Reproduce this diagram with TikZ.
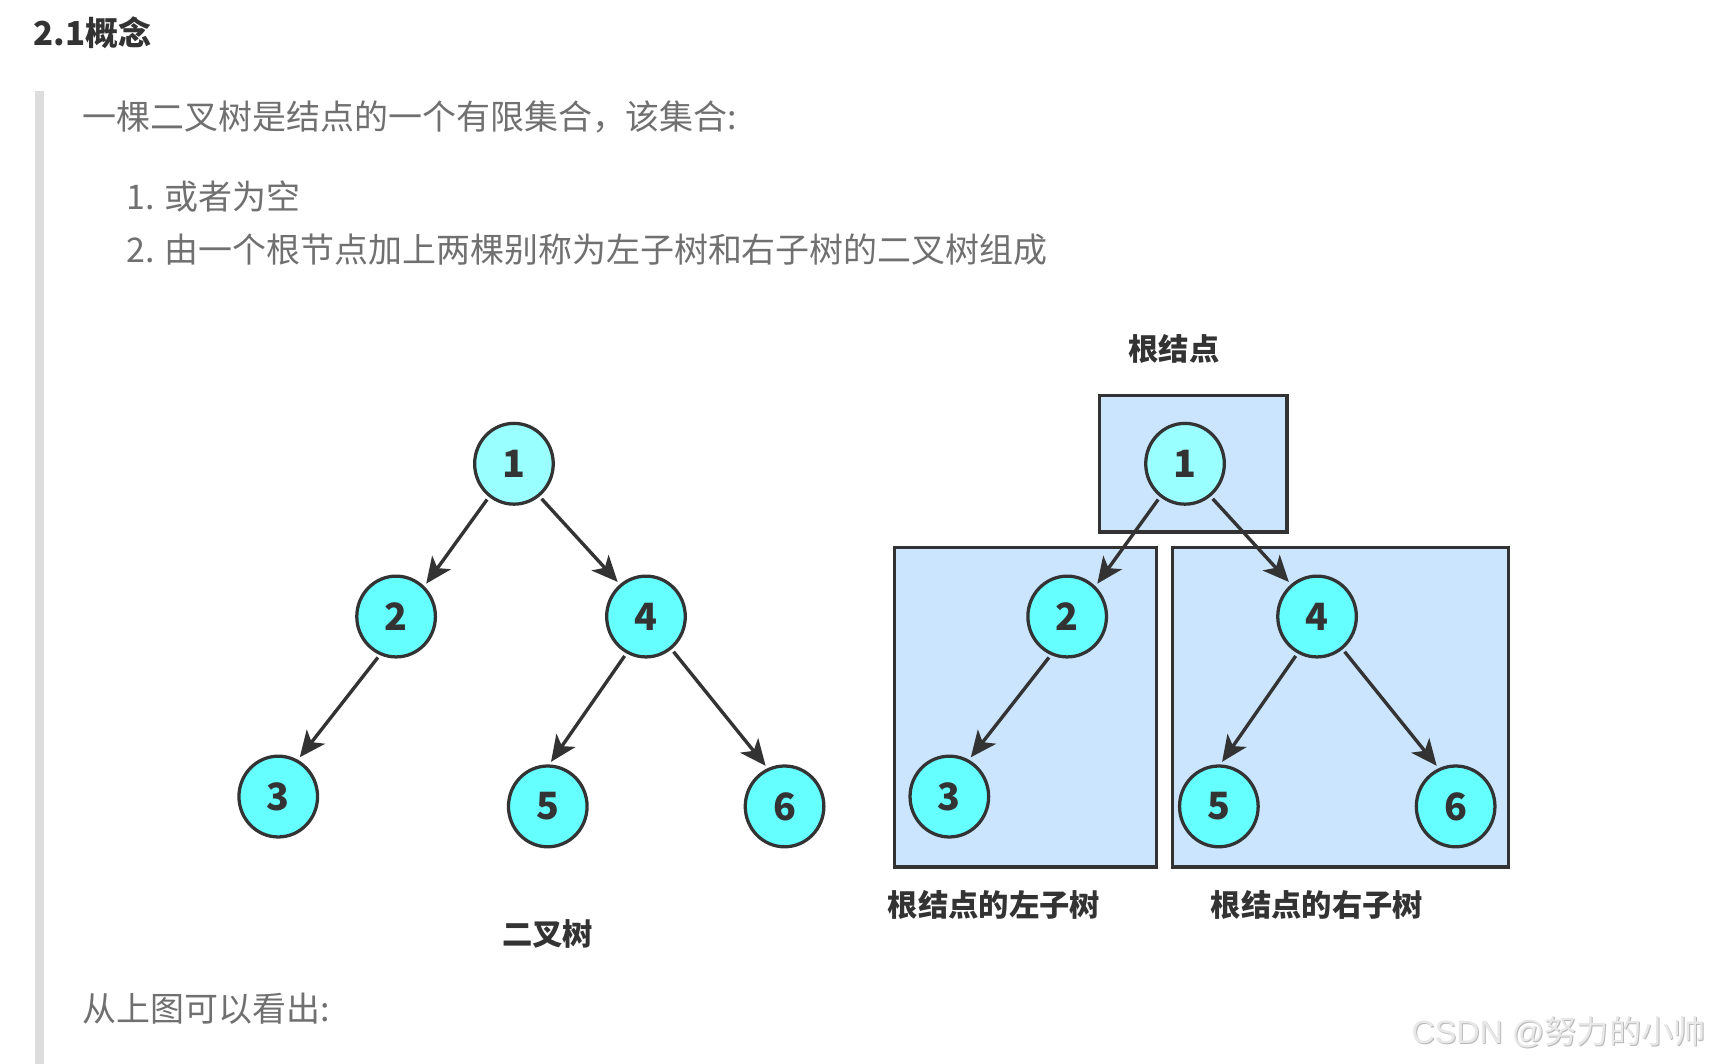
\documentclass[tikz,border=0pt]{standalone}
\usepackage{fontspec}
\setmainfont{Noto Sans CJK SC}
\newfontfamily\latinwm{Liberation Sans}
\usetikzlibrary{shapes.geometric,arrows.meta}
\definecolor{dk}{HTML}{333333}
\definecolor{bodytxt}{HTML}{707070}
\definecolor{cyl}{HTML}{99FFFF}
\definecolor{cyn}{HTML}{66FFFF}
\definecolor{boxfill}{HTML}{CCE5FF}
\definecolor{barc}{HTML}{DDDDDD}
\tikzset{
  treenode/.style={ellipse, draw=dk, line width=0.85pt, fill=cyn, minimum width=0.72cm, minimum height=0.74cm, inner sep=0pt, text=dk, font=\fontsize{9.8pt}{10pt}\selectfont\bfseries},
  rootnode/.style={treenode, fill=cyl},
  arr/.style={draw=dk, line width=0.88pt, shorten <=0.8pt, shorten >=0.8pt, -{Stealth[length=6.8pt,width=6pt,inset=1.8pt]}},
  subbox/.style={rectangle, draw=dk, line width=0.85pt, fill=boxfill, inner sep=0pt},
  bodytext/.style={anchor=west, inner sep=0pt, text=bodytxt, font=\fontsize{8.85pt}{10pt}\selectfont},
  lbl/.style={inner sep=0pt, text=dk, font=\fontsize{7.9pt}{9pt}\selectfont\bfseries},
}
\begin{document}
\begin{tikzpicture}[x=0.01cm, y=-0.01cm]
\useasboundingbox[fill=white] (0,0) rectangle (1568,975);
% quote bar
\fill[barc] (32,83) rectangle (40,975);
% title
\node[anchor=west, inner sep=0pt, text=dk, font=\fontsize{8.6pt}{10pt}\selectfont\bfseries] (title) at (30,30) {2.1概念};
% body text
\node[bodytext] (t1) at (75,107) {一棵二叉树是结点的一个有限集合，该集合:};
\node[bodytext] (t2) at (115,180) {1. 或者为空};
\node[bodytext] (t3) at (115,229) {2. 由一个根节点加上两棵别称为左子树和右子树的二叉树组成};
\node[bodytext] (t4) at (75,924) {从上图可以看出:};

% left tree
\node[rootnode] (a1) at (471,425) {1};
\node[treenode] (a2) at (363,565) {2};
\node[treenode] (a4) at (592,565) {4};
\node[treenode] (a3) at (255,730) {3};
\node[treenode] (a5) at (502,739) {5};
\node[treenode] (a6) at (719,739) {6};
\draw[arr] (a1.233.5) -- (a2.47);
\draw[arr] (a1.308.7) -- (a4.129.3);
\draw[arr] (a2.247) -- (a3.62);
\draw[arr] (a4.242) -- (a5.88);
\draw[arr] (a4.308) -- (a6.114);
\node[lbl] (lt) at (502,856) {二叉树};

% right tree boxes
\node[subbox, minimum width=1.72cm, minimum height=1.25cm] (rootbox) at (1093.5,425) {};
\node[subbox, minimum width=2.40cm, minimum height=2.93cm] (leftbox) at (939.5,648) {};
\node[subbox, minimum width=3.08cm, minimum height=2.93cm] (rightbox) at (1228.5,648) {};
\node[rootnode] (b1) at (1086,425) {1};
\node[treenode] (b2) at (978,565) {2};
\node[treenode] (b4) at (1207,565) {4};
\node[treenode] (b3) at (870,730) {3};
\node[treenode] (b5) at (1117,739) {5};
\node[treenode] (b6) at (1334,739) {6};
\draw[arr] (b1.233.5) -- (b2.47);
\draw[arr] (b1.308.7) -- (b4.129.3);
\draw[arr] (b2.247) -- (b3.62);
\draw[arr] (b4.242) -- (b5.88);
\draw[arr] (b4.308) -- (b6.114);
\node[lbl] (lroot) at (1076,320) {根结点};
\node[lbl] (lleft) at (911,829) {根结点的左子树};
\node[lbl] (lright) at (1207,829) {根结点的右子树};

% watermark
\node[anchor=east, inner sep=0pt, text=gray!55, font=\fontsize{8.4pt}{9pt}\selectfont] (wms) at (1564.8,946.8) {{\latinwm CSDN @}努力的小帅};
\node[anchor=east, inner sep=0pt, text=gray!18, font=\fontsize{8.4pt}{9pt}\selectfont] (wm) at (1564,946) {{\latinwm CSDN @}努力的小帅};
\end{tikzpicture}
\end{document}
